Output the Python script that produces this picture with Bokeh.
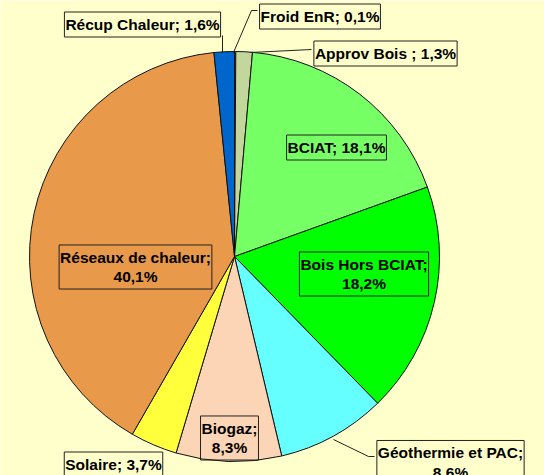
import math
from bokeh.plotting import figure
from bokeh.models import Range1d, Label, ColumnDataSource
from bokeh.embed import file_html
from bokeh.resources import INLINE

# ---- data (clockwise from 12 o'clock) ----
categories = ["Froid EnR", "Approv Bois ", "BCIAT", "Bois Hors BCIAT", "Géothermie et PAC",
              "Biogaz", "Solaire", "Réseaux de chaleur", "Récup Chaleur"]
shares = [0.1, 1.3, 18.1, 18.2, 8.6, 8.3, 3.7, 40.1, 1.6]
colors = ["#4F6228", "#C3D69B", "#77FF66", "#00FF00", "#66FFFF",
          "#FBD5B5", "#FFFF3C", "#E9994A", "#0066CC"]
# label line break after the semicolon for two-line labels
two_line = [False, False, False, True, True, True, False, True, False]

# ---- layout (reference pixel coords, y down) ----
W, H = 544, 475
OFF = 0
IMG_H = 475
CX, CY, R = 234, 256, 205
label_pos = [(319.5, 16), (385, 53), (336, 147), (363.5, 273.5), (450, 462),
             (229, 437.5), (113, 464), (135, 266.5), (142, 24)]
leaders = [
    [(257, 10), (251, 10), (233, 52)],
    [(311, 49), (250, 52)],
    None, None,
    [(333, 439), (368, 456), (374, 456)],
    None, None, None,
    [(222, 35), (222, 52)],
]

def fy(y):
    return IMG_H - y

p = figure(width=W, height=H, output_backend="svg", toolbar_location=None,
           x_range=Range1d(OFF, OFF + W), y_range=Range1d(IMG_H - OFF - H, IMG_H - OFF),
           min_border=0)
p.axis.visible = False
p.grid.visible = False
p.outline_line_color = None
p.background_fill_color = "#FFFFCC"
p.border_fill_color = "#FFFFCC"

total = sum(shares)
starts, ends = [], []
cum = 0.0
for s in shares:
    a0 = math.pi / 2 - 2 * math.pi * cum / total
    cum += s
    a1 = math.pi / 2 - 2 * math.pi * cum / total
    starts.append(a1)
    ends.append(a0)

src = ColumnDataSource(dict(start=starts, end=ends, color=colors))
p.wedge(x=CX, y=fy(CY), radius=R, radius_units="screen", start_angle="start", end_angle="end",
        fill_color="color", line_color="#111111", line_width=1, source=src)

for pts in leaders:
    if pts:
        p.line([q[0] for q in pts], [fy(q[1]) for q in pts], line_color="#222222", line_width=1)

for name, v, tl, (lx, ly) in zip(categories, shares, two_line, label_pos):
    val = f"{v:.1f}".replace(".", ",") + "%"
    txt = f"{name};\n{val}" if tl else f"{name}; {val}"
    p.add_layout(Label(x=lx, y=fy(ly), text=txt, text_align="center", text_baseline="middle",
                       text_font="Liberation Sans", text_font_style="bold", text_font_size="15.5px",
                       text_color="black", text_line_height=1.12,
                       border_line_color="#222222", border_line_width=1,
                       background_fill_color=None, padding=(1, 4)))

open("out.html", "w").write(file_html(p, INLINE))
